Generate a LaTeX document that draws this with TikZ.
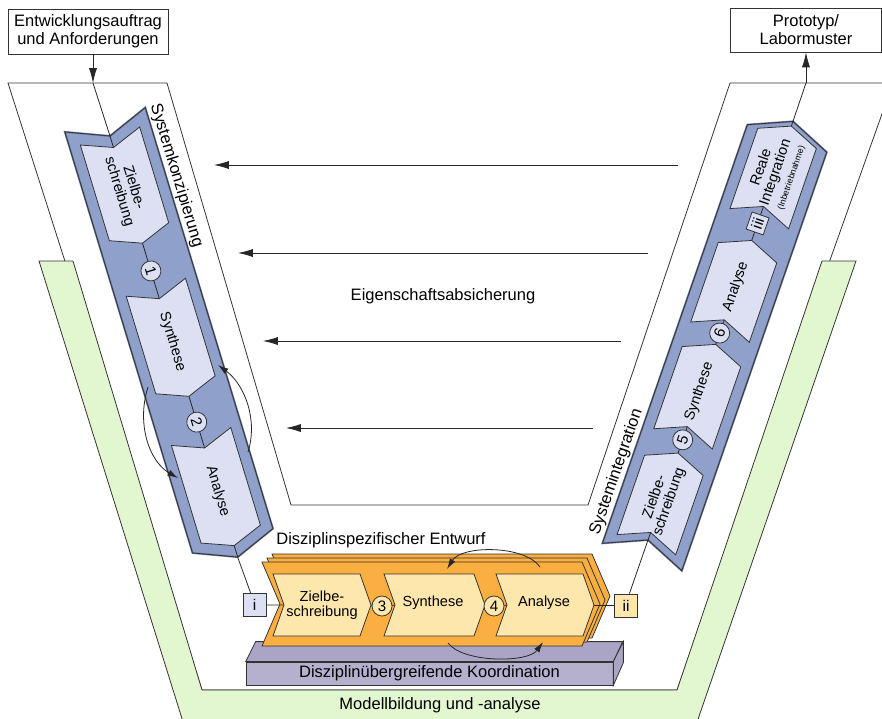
\documentclass[tikz,border=0pt]{standalone}
\usepackage{fontspec}
\setmainfont{Liberation Sans}
\usetikzlibrary{arrows.meta,positioning,calc}

\definecolor{gruen}{RGB}{226,246,208}
\definecolor{blau}{RGB}{143,160,202}
\definecolor{hellblau}{RGB}{220,224,242}
\definecolor{orangeA}{RGB}{251,175,64}
\definecolor{hellorange}{RGB}{254,231,173}
\definecolor{lila}{RGB}{181,176,206}
\definecolor{lilaB}{RGB}{170,165,198}

\tikzset{
  linie/.style={draw=black!85,line width=0.45pt},
  pfeil/.style={linie,-{Latex[length=8.5pt,width=4.6pt]}},
  bogen/.style={linie,-{Latex[length=6pt,width=3.6pt]}},
  flaeche/.style={fill=#1,draw=black!80,line width=0.45pt},
  rand/.style={draw=blau!78!black,line width=1.1pt},
  nr/.style={circle,flaeche=#1,minimum size=0.4cm,inner sep=0pt,font=\fontsize{8.6}{9}\selectfont},
  kasten/.style={flaeche=#1,minimum size=0.46cm,inner sep=0pt,font=\fontsize{8.8}{9}\selectfont},
  gross/.style={font={\fontsize{9.4}{10.2}\selectfont},align=center},
  klein/.style={font={\fontsize{8.3}{8.6}\selectfont\lineskiplimit=-9pt},align=center},
}

\newcommand{\chevbox}[5]{%
  \path[#1] (#2,#4) -- (#2+#5,0) -- (#2,-#4) -- (#3,-#4) -- (#3+#5,0) -- (#3,#4) -- cycle;}

\begin{document}
\begin{tikzpicture}[x=0.02cm,y=0.02cm]
\useasboundingbox (0,0) rectangle (882,-718);
\clip (0,0) rectangle (882,-718);

\path[flaeche=white] (8,-83) -- (167,-83) -- (291,-505) -- (588,-505) -- (730,-83) -- (893,-83) -- (677,-690) -- (202,-690) -- cycle;
\path[flaeche=gruen] (39,-261) -- (73,-261) -- (202,-690) -- (677,-690) -- (822,-261) -- (856,-261) -- (696,-725) -- (184,-725) -- cycle;
\node[gross] (modell) at (440,-705) {Modellbildung und -analyse};

\node[draw=black!80,line width=0.45pt,gross,minimum width=3.2cm,minimum height=0.86cm] (auftrag) at (88,-31.5) {Entwicklungsauftrag\\und Anforderungen};
\node[draw=black!80,line width=0.45pt,gross,minimum width=3.02cm,minimum height=0.88cm] (proto) at (806,-30) {Prototyp/\\Labormuster};
\coordinate (ein) at (93,-83);
\coordinate (aus) at (806,-83);
\draw[pfeil] (ein |- auftrag.south) -- (ein);
\draw[pfeil] (aus) -- (aus |- proto.south);

\foreach \y/\xa/\xb in {165/678/214,253/648/238,341/621/263,428/593/286}
  \draw[pfeil] (\xa,-\y) -- (\xb,-\y);
\node[gross] (eigen) at (443,-296) {Eigenschaftsabsicherung};

\begin{scope}[shift={(110,-136)},rotate=-73.13,transform shape]
  \chevbox{fill=blau,rand}{-17}{423}{42}{17}
  \chevbox{flaeche=none}{-17}{423}{42}{17}
  \coordinate (lnotch) at (0,0);
  \coordinate (ltip) at (441,0);
  \draw[linie] (lnotch) -- (ltip);
  \chevbox{flaeche=hellblau}{0}{100}{31}{12}
  \chevbox{flaeche=hellblau}{158}{260}{31}{12}
  \chevbox{flaeche=hellblau}{314}{416}{31}{12}
  \node[klein] (lz) at (56,0) {Zielbe-\\schreibung};
  \node[klein] (ls) at (215,0) {Synthese};
  \node[klein] (la) at (371,0) {Analyse};
  \node[nr=hellblau] (c1) at (141,0) {1};
  \node[nr=hellblau] (c2) at (299,0) {2};
  \node[gross] (konzept) at (57,52) {Systemkonzipierung};
\end{scope}
\draw[linie] (ein) -- (lnotch);

\begin{scope}[shift={(648,-540)},rotate=70.9,transform shape]
  \chevbox{fill=blau,rand}{-18}{425}{42}{18}
  \chevbox{flaeche=none}{-18}{425}{42}{18}
  \coordinate (rnotch) at (0,0);
  \coordinate (rtip) at (443,0);
  \draw[linie] (rnotch) -- (rtip);
  \chevbox{flaeche=hellblau}{-5}{79}{31}{13}
  \chevbox{flaeche=hellblau}{107}{194}{31}{13}
  \chevbox{flaeche=hellblau}{220}{304}{31}{13}
  \chevbox{flaeche=hellblau}{340}{425}{31}{13}
  \node[klein] (rz) at (43,0) {Zielbe-\\schreibung};
  \node[klein] (rs) at (157,0) {Synthese};
  \node[klein] (ra) at (268,0) {Analyse};
  \node[klein] (rr) at (389,0) {Reale\\Integration\\{\fontsize{5}{5}\selectfont(Inbetriebnahme)}};
  \node[nr=hellblau] (c5) at (106,0) {5};
  \node[nr=hellblau] (c6) at (219,0) {6};
  \node[kasten=hellblau,minimum size=0.36cm] (iiibox) at (335,0) {iii};
  \node[gross] (integ) at (54,52) {Systemintegration};
\end{scope}
\draw[linie] (rtip) -- (aus);

\node[flaeche=lila,minimum width=7.34cm,minimum height=0.46cm,inner sep=0pt,gross] (koord) at (429.5,-673.5) {Disziplinübergreifende Koordination};
\path[flaeche=lilaB] (koord.north west) -- ++(10,20) -- ++(367,0) -- (koord.north east) -- cycle;
\path[flaeche=lilaB] (koord.north east) -- ++(10,20) -- ++(0,-21) -- (koord.south east) -- cycle;

\foreach \s in {10,5,0}{
  \begin{scope}[shift={(262+\s,-604+0.8*\s)}]
    \chevbox{flaeche=orangeA}{0}{320}{42}{18}
  \end{scope}
}

\node[kasten=hellblau] (ibox) at (254.5,-605) {i};
\node[kasten=hellorange] (iibox) at (626,-605.5) {ii};
\draw[linie] (ibox) -- (iibox);
\draw[linie] (ltip) -- ([xshift=-0.076cm]ibox.north);
\draw[linie] (rnotch) -- ([xshift=0.068cm]iibox.north);

\begin{scope}[shift={(0,-605)}]
  \chevbox{flaeche=hellorange}{273}{360}{31}{11}
  \chevbox{flaeche=hellorange}{384}{474}{31}{11}
  \chevbox{flaeche=hellorange}{496}{583}{31}{11}
\end{scope}
\node[klein] (oz) at (322,-605) {Zielbe-\\schreibung};
\node[klein] (os) at (433,-603) {Synthese};
\node[klein] (oa) at (544,-603) {Analyse};
\node[nr=hellorange] (c3) at (382,-606) {3};
\node[nr=hellorange] (c4) at (494,-606) {4};
\node[gross] (entwurf) at (381,-540) {Disziplinspezifischer Entwurf};

\draw[bogen] (540,-567) .. controls (525,-545) and (462,-545) .. (447,-569);
\draw[bogen] (448,-643) .. controls (463,-663) and (528,-663) .. (543,-642);
\draw[bogen] (148,-387) .. controls (136,-425) and (150,-462) .. (178,-478);
\draw[bogen] (248,-452) .. controls (258,-420) and (245,-385) .. (218,-365);
\end{tikzpicture}
\end{document}
